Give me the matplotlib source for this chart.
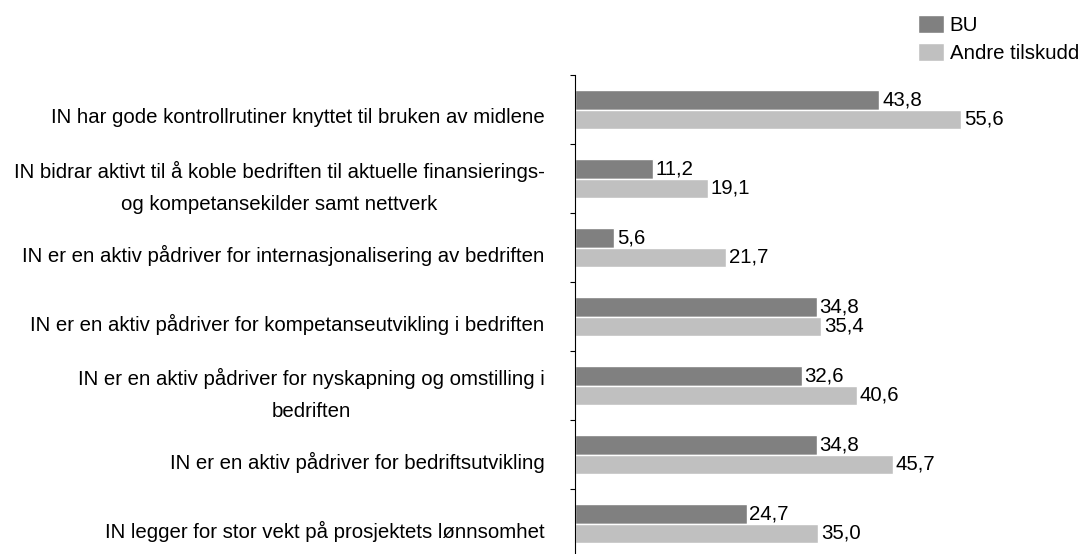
import matplotlib.pyplot as plt
import matplotlib.transforms as mtransforms
import numpy as np

plt.rcParams['font.family'] = ['Liberation Sans', 'DejaVu Sans']

# Data
categories = [
    'IN har gode kontrollrutiner knyttet til bruken av midlene',
    'IN bidrar aktivt til å koble bedriften til aktuelle finansierings-\nog kompetansekilder samt nettverk',
    'IN er en aktiv pådriver for internasjonalisering av bedriften',
    'IN er en aktiv pådriver for kompetanseutvikling i bedriften',
    'IN er en aktiv pådriver for nyskapning og omstilling i\nbedriften',
    'IN er en aktiv pådriver for bedriftsutvikling',
    'IN legger for stor vekt på prosjektets lønnsomhet',
]
bu = [43.8, 11.2, 5.6, 34.8, 32.6, 34.8, 24.7]
andre = [55.6, 19.1, 21.7, 35.4, 40.6, 45.7, 35.0]
series_names = ['BU', 'Andre tilskudd']

fs = 14.7

fig = plt.figure(figsize=(10.82, 5.54), dpi=100)
ax = fig.add_axes([575 / 1082, -4 / 554, 417 / 1082, 483 / 554])

y = np.arange(len(categories))
h = 0.28
b1 = ax.barh(y - h / 2, bu, height=h, color='#808080', edgecolor='white', linewidth=1, label=series_names[0])
b2 = ax.barh(y + h / 2, andre, height=h, color='#c0c0c0', edgecolor='white', linewidth=1, label=series_names[1])

fmt = lambda v: f'{v:.1f}'.replace('.', ',')
ax.bar_label(b1, labels=[fmt(v) for v in bu], padding=2, fontsize=fs)
ax.bar_label(b2, labels=[fmt(v) for v in andre], padding=2, fontsize=fs)

ax.set_xlim(0, 60)
ax.set_ylim(len(categories) - 0.5, -0.5)

ax.set_yticks(y)
ax.set_yticklabels(categories, fontsize=fs, linespacing=1.9)
ax.set_yticks(np.arange(len(categories) + 1) - 0.5, minor=True)
ax.tick_params(axis='y', which='major', length=0, pad=22)
ax.tick_params(axis='y', which='minor', length=3.6, width=0.8, direction='out')
# single-line labels sit a little below the category centre
shift = mtransforms.ScaledTranslation(0, -6 / 100, fig.dpi_scale_trans)
for t in ax.get_yticklabels():
    t.set_multialignment('center')
    if '\n' not in t.get_text():
        t.set_transform(t.get_transform() + shift)

ax.set_xticks([])
for s in ['top', 'right', 'bottom']:
    ax.spines[s].set_visible(False)
ax.spines['left'].set_linewidth(0.8)

fig.legend(loc='upper left', bbox_to_anchor=(918 / 1082, 1 - 15 / 554), frameon=False,
           fontsize=fs, handlelength=1.25, handleheight=1.0, handletextpad=0.3,
           labelspacing=0.37, borderpad=0, borderaxespad=0)

fig.savefig('out.png', dpi=100)
